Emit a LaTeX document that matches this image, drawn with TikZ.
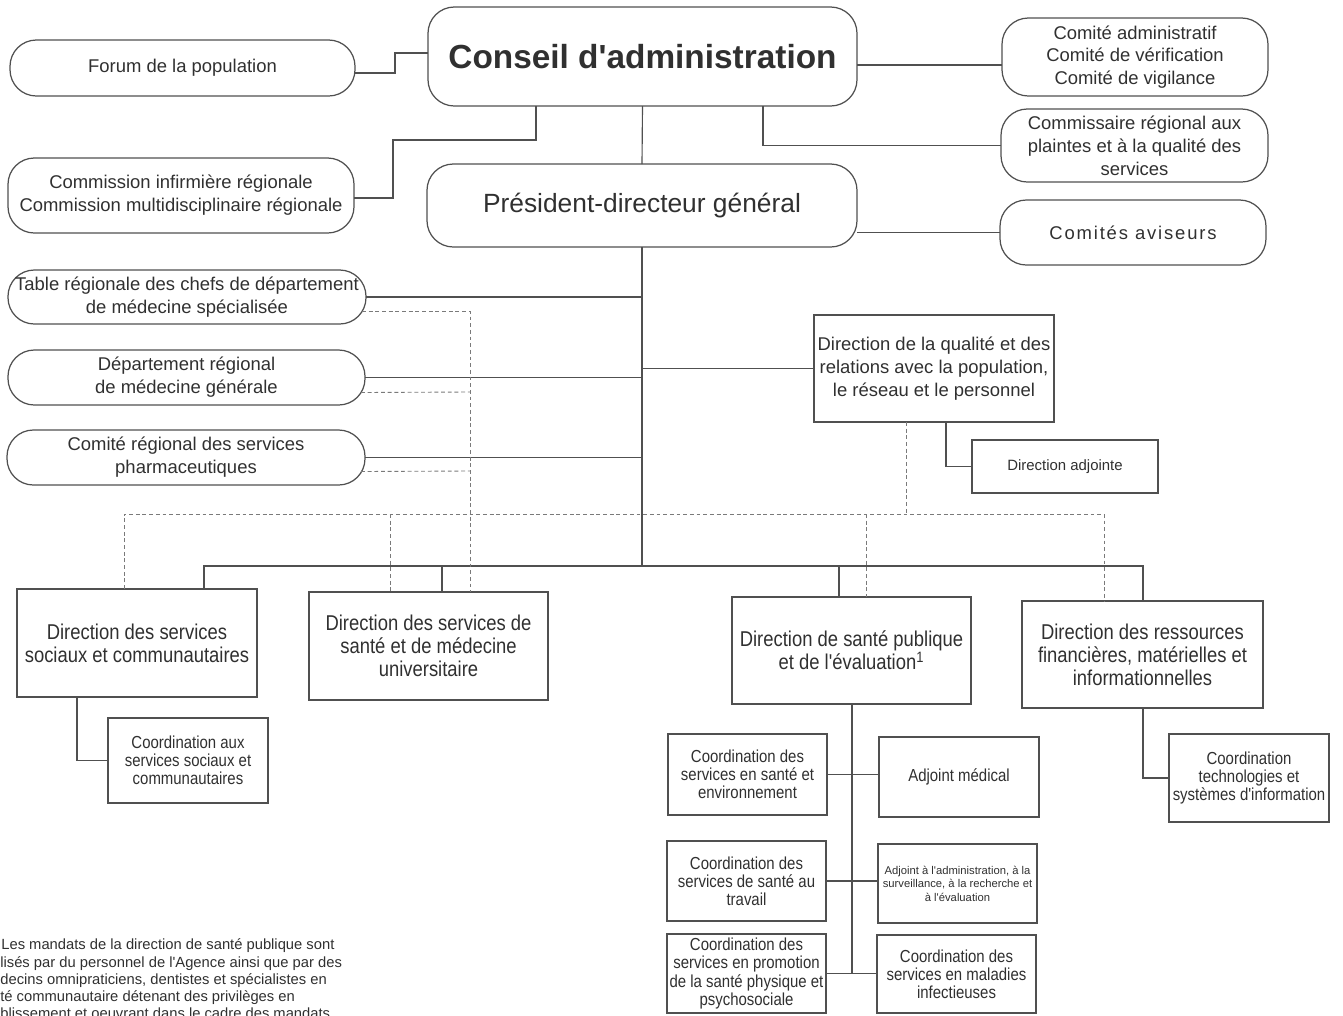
\documentclass[tikz,border=0pt]{standalone}
\usepackage{fontspec}
\setmainfont{Liberation Sans}[Ligatures=TeXOff]
\newfontfamily\narrowfont[FakeStretch=0.86,Ligatures=TeXOff]{Liberation Sans}
\newfontfamily\spacedfont[LetterSpace=10,Ligatures=TeXOff]{Liberation Sans}
\usetikzlibrary{calc}
\definecolor{ink}{HTML}{303030}
\definecolor{lin}{HTML}{505050}
\definecolor{dshc}{HTML}{7A7A7A}
\newcommand\obox[7]{%
 \pgfmathsetmacro\obw{(#5-#3)*0.02}%
 \pgfmathsetmacro\obh{(#6-#4)*0.02}%
 \node[#1, minimum width=\obw cm, minimum height=\obh cm] (#2) at ({(#3+#5)/2},{(#4+#6)/2}) {#7};}
\tikzset{
 base/.style={draw=lin, line width=0.7pt, text=ink, align=center, inner sep=0pt, outer sep=0pt},
 pill/.style={base, rounded corners=15pt, font=\fontsize{10.5}{13}\selectfont},
 rbox/.style={base, font=\fontsize{10.5}{13}\selectfont},
 dbox/.style={base, font=\narrowfont\fontsize{12.2}{13}\selectfont},
 sbox/.style={base, font=\narrowfont\fontsize{9.9}{10.3}\selectfont},
 ln/.style={draw=lin, line width=0.65pt},
 dl/.style={draw=dshc, line width=0.5pt, dash pattern=on 2.2pt off 1.6pt},
 foot/.style={anchor=base west, inner sep=0pt, text=ink, font=\fontsize{8.4}{9.9}\selectfont},
}
\begin{document}
\begin{tikzpicture}[x=0.02cm, y=-0.02cm]
\useasboundingbox (0,0) rectangle (1343,1015);
% top level
\obox{pill}{forum}{10}{40}{355}{96}{Forum de la population}
\obox{pill}{comm}{8}{158}{354}{233}{Commission infirmière régionale\\Commission multidisciplinaire régionale}
\obox{pill, font=\bfseries\fontsize{19}{22}\selectfont}{conseil}{428}{7}{857}{106}{Conseil d'administration}
\obox{pill, font=\fontsize{15}{18}\selectfont}{pdg}{427}{164}{857}{247}{Président-directeur général}
\obox{pill}{comadm}{1002}{18}{1268}{96}{Comité administratif\\Comité de vérification\\Comité de vigilance}
\obox{pill}{commiss}{1001}{109}{1268}{182}{Commissaire régional aux\\plaintes et à la qualité des\\services}
\obox{pill, font=\spacedfont\fontsize{10.5}{13}\selectfont}{avis}{1000}{200}{1266}{265}{Comités aviseurs}
\obox{pill}{table}{8}{270}{366}{324}{Table régionale des chefs de département\\de médecine spécialisée}
\obox{pill}{dept}{8}{350}{365}{405}{Département régional\\de médecine générale}
\obox{pill}{pharm}{7}{430}{365}{485}{Comité régional des services\\pharmaceutiques}
% directions
\obox{rbox}{qual}{814}{315}{1054}{422}{Direction de la qualité et des\\relations avec la population,\\le réseau et le personnel}
\obox{rbox, font=\fontsize{8.5}{10}\selectfont}{adjte}{972}{440}{1158}{493}{Direction adjointe}
\obox{dbox}{soc}{17}{589}{257}{697}{Direction des services\\sociaux et communautaires}
\obox{sbox}{coordsoc}{108}{718}{268}{803}{Coordination aux\\services sociaux et\\communautaires}
\obox{dbox}{univ}{309}{592}{548}{700}{Direction des services de\\santé et de médecine\\universitaire}
\obox{dbox}{pub}{732}{597}{971}{704}{Direction de santé publique\\et de l'évaluation\textsuperscript{1}}
\obox{dbox}{res}{1022}{601}{1263}{708}{Direction des ressources\\financières, matérielles et\\informationnelles}
\obox{sbox}{tech}{1169}{734}{1329}{822}{Coordination\\technologies et\\systèmes d'information}
\obox{sbox}{env}{668}{734}{827}{815}{Coordination des\\services en santé et\\environnement}
\obox{sbox}{adjmed}{879}{737}{1039}{817}{Adjoint médical}
\obox{sbox}{trav}{667}{841}{826}{921}{Coordination des\\services de santé au\\travail}
\obox{base, font=\fontsize{6.4}{7.7}\selectfont}{adjadm}{878}{844}{1037}{923}{Adjoint à l'administration, à la\\surveillance, à la recherche et\\à l'évaluation}
\obox{sbox}{promo}{667}{934}{826}{1013}{Coordination des\\services en promotion\\de la santé physique et\\psychosociale}
\obox{sbox}{malad}{877}{935}{1036}{1013}{Coordination des\\services en maladies\\infectieuses}
% solid connectors
\draw[ln] (forum.east |- 0,73) -- (395,73) |- (conseil.west |- 0,53);
\draw[ln] (conseil.south -| 536,0) |- (393,140) |- (comm.east |- 0,198);
\draw[ln] (conseil.south) -- (pdg.north);
\draw[ln] (conseil.south -| 763,0) |- (commiss.west);
\draw[ln] (conseil.east |- 0,65) -- (comadm.west |- 0,65);
\draw[ln] (pdg.east |- avis.west) -- (avis.west);
\draw[ln] (pdg.south) -- (pdg.south |- 0,566);
\draw[ln] (table.east) -- (table.east -| pdg.south);
\draw[ln] (dept.east) -- (dept.east -| pdg.south);
\draw[ln] (pharm.east) -- (pharm.east -| pdg.south);
\draw[ln] (qual.west) -- (qual.west -| pdg.south);
\draw[ln] (qual.south -| 946,0) |- (adjte.west);
\draw[ln] (soc.north -| 204,0) -- (204,566) -- (1143,566) -- (res.north -| 1143,0);
\draw[ln] (univ.north -| 442,0) -- (442,566);
\draw[ln] (pub.north -| 839,0) -- (839,566);
\draw[ln] (soc.south -| 77,0) |- (coordsoc.west);
\draw[ln] (res.south -| 1143,0) |- (tech.west);
\draw[ln] (pub.south -| 852,0) -- (852,973);
\draw[ln] (env.east) -- (env.east -| adjmed.west);
\draw[ln] (trav.east) -- (trav.east -| adjadm.west);
\draw[ln] (promo.east) -- (promo.east -| malad.west);
% dashed connectors
\draw[dl] ($(table.east)+(-4,14)$) -- (470,311) -- (univ.north -| 470,0);
\draw[dl] ($(dept.east)+(-4,15)$) -- (470,392);
\draw[dl] ($(pharm.east)+(-4,14)$) -- (470,471);
\draw[dl] (soc.north -| 124,0) -- (124,514) -- (1104,514) -- (res.north -| 1104,0);
\draw[dl] (390,514) -- (univ.north -| 390,0);
\draw[dl] (866,514) -- (pub.north -| 866,0);
\draw[dl] (qual.south -| 906,0) -- (906,514);
% footnote (cropped in the original)
\node[foot] (f1) at (1,949) {Les mandats de la direction de santé publique sont};
\node[foot] (f2) at (0,967) {lisés par du personnel de l'Agence ainsi que par des};
\node[foot] (f3) at (0,984) {decins omnipraticiens, dentistes et spécialistes en};
\node[foot] (f4) at (0,1001) {té communautaire détenant des privilèges en};
\node[foot] (f5) at (0,1018) {blissement et oeuvrant dans le cadre des mandats};
\end{tikzpicture}
\end{document}
